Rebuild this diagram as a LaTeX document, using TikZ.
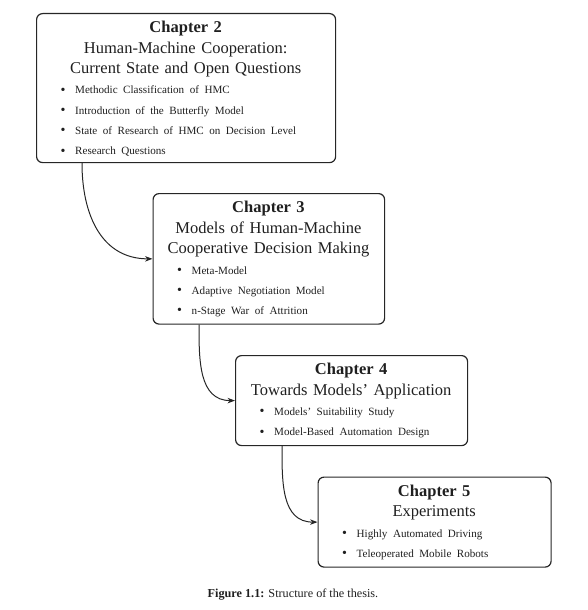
\documentclass[tikz,border=0pt]{standalone}
\usepackage{fontspec}
\setmainfont{Liberation Serif}
\usetikzlibrary{calc,arrows.meta}
\newcommand\bul[1]{\par\noindent\hspace*{24.5pt}\makebox[14.5pt][l]{\raisebox{-0.3pt}{\fontsize{14}{14}\selectfont\textbullet}}#1}
\tikzset{
  chbox/.style={draw=black!85, line width=1.2pt, rounded corners=6pt, inner sep=0pt, anchor=north west},
  txt/.style={anchor=north west, inner sep=0pt, text=black!88, font=\fontsize{16.5}{20.5}\selectfont},
  conn/.style={draw=black!85, line width=1pt, -{Stealth[length=7.5pt,width=5.5pt]}, out=-90, in=180, looseness=1.1},
}
\newcommand\headA{\rule{0pt}{14pt}}
\newcommand\bulfont{\fontsize{11.1}{20.3}\selectfont}
\begin{document}
\begin{tikzpicture}[x=1pt,y=-1pt]
\useasboundingbox (0,0) rectangle (587,610);
% boxes
\node[chbox, minimum width=299pt, minimum height=149pt] (c2) at (36,13) {};
\node[chbox, minimum width=231.5pt, minimum height=130.5pt] (c3) at (152.5,193) {};
\node[chbox, minimum width=232pt, minimum height=90pt] (c4) at (235,355) {};
\node[chbox, minimum width=233pt, minimum height=90pt] (c5) at (317.5,476.5) {};
% texts
\node[txt, text width=299pt] (t2) at ($(c2.north west)+(0,5.5)$) {\centering\headA\textbf{Chapter 2}\\Human-Machine Cooperation:\\Current State and Open Questions\par
{\bulfont\raggedright
\bul{Methodic Classification of HMC}
\bul{Introduction of the Butterfly Model}
\bul{State of Research of HMC on Decision Level}
\bul{Research Questions}\par}};
\node[txt, text width=231.5pt] (t3) at ($(c3.north west)+(0,5.5)$) {\centering\headA\textbf{Chapter 3}\\Models of Human-Machine\\Cooperative Decision Making\par
{\bulfont\raggedright
\bul{Meta-Model}
\bul{Adaptive Negotiation Model}
\bul{n-Stage War of Attrition}\par}};
\node[txt, text width=232pt] (t4) at ($(c4.north west)+(0,5.5)$) {\centering\headA\textbf{Chapter 4}\\Towards Models' Application\par
{\bulfont\raggedright
\bul{Models' Suitability Study}
\bul{Model-Based Automation Design}\par}};
\node[txt, text width=233pt] (t5) at ($(c5.north west)+(0,5.5)$) {\centering\headA\textbf{Chapter 5}\\Experiments\par
{\bulfont\raggedright
\bul{Highly Automated Driving}
\bul{Teleoperated Mobile Robots}\par}};
% connectors
\draw[conn] ([xshift=46pt]c2.south west) to (c3.west);
\draw[conn] ([xshift=46.5pt]c3.south west) to (c4.west);
\draw[conn] ([xshift=47pt]c4.south west) to (c5.west);
% caption
\node[anchor=base, inner sep=0pt, text=black!88, font=\fontsize{12.2}{15}\selectfont] (cap) at (293,597) {\textbf{Figure 1.1:} Structure of the thesis.};
\end{tikzpicture}
\end{document}
